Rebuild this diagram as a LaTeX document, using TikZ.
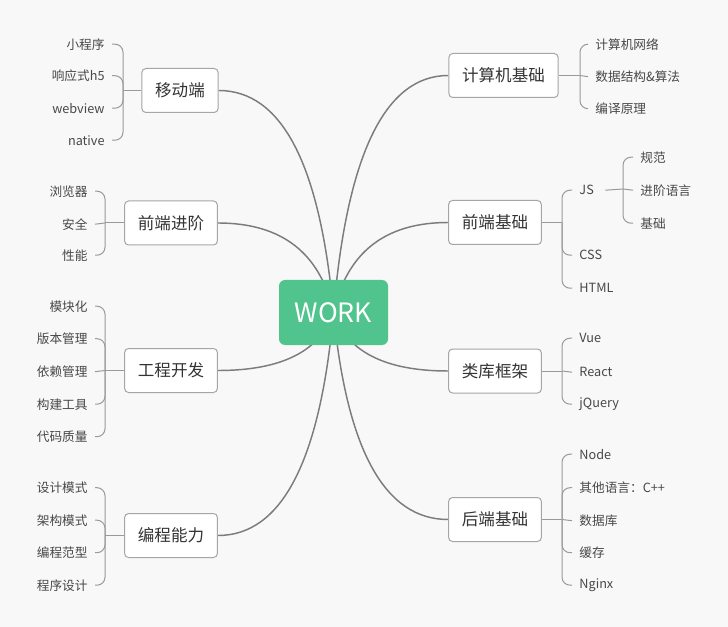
\documentclass[tikz,border=0pt]{standalone}
\usepackage{fontspec}
\setmainfont{Noto Sans CJK SC}
\usetikzlibrary{calc}
\definecolor{bgc}{HTML}{F8F8F8}
\definecolor{workgreen}{HTML}{50C48C}
\definecolor{linkc}{HTML}{7C7C7C}
\definecolor{bracec}{HTML}{9A9A9A}
\definecolor{boxline}{HTML}{A6A6A6}
\definecolor{txtc}{HTML}{333333}
\definecolor{leafc}{HTML}{484848}
\pgfdeclarelayer{back}
\pgfsetlayers{back,main}
\newcommand\mylink[3]{%
  \coordinate (qq) at ($(work.center |- #1.#2)+(#3,0)$);
  \draw[mainlink] (work.center) .. controls ($(work.center)!0.667!(qq)$) and ($(#1.#2)!0.667!(qq)$) .. (#1.#2);
}
\begin{document}
\begin{tikzpicture}[x=0.75pt,y=-0.75pt,
  topic/.style={draw=boxline, line width=0.75pt, fill=white, rounded corners=3pt,
    minimum height=33pt, inner xsep=10pt, font=\fontsize{12.4pt}{14pt}\selectfont, text=txtc},
  leafl/.style={anchor=east, inner xsep=5.4pt, inner ysep=2pt, yshift=-0.9pt,
    font=\fontsize{9.5pt}{11pt}\selectfont, text=leafc},
  leafr/.style={leafl, anchor=west},
  mainlink/.style={draw=linkc, line width=1.1pt},
  bracel/.style={draw=bracec, line width=0.75pt, rounded corners=6pt},
  bracest/.style={draw=bracec, line width=0.75pt},
]
\useasboundingbox (0,0) rectangle (728,627);

% central node
\node[fill=workgreen, rounded corners=4.5pt, minimum width=81.75pt, minimum height=48.75pt,
  text=white, font=\fontsize{20pt}{22pt}\selectfont] (work) at (333.5,312.5) {WORK};

% topic boxes
\node[topic] (mob)  at (180,90.5)  {移动端};
\node[topic] (qdjj) at (171,223)   {前端进阶};
\node[topic] (gckf) at (171,370.5) {工程开发};
\node[topic] (bcnl) at (171,535.5) {编程能力};
\node[topic] (jsj)  at (503.5,75.5) {计算机基础};
\node[topic] (qdjc) at (495,222.5) {前端基础};
\node[topic] (lkkj) at (495,371)   {类库框架};
\node[topic] (hdjc) at (495,519.5) {后端基础};

% brace junctions
\coordinate (mobB)  at (123,90.5);
\coordinate (qdjjB) at (105,223);
\coordinate (gckfB) at (105,370.5);
\coordinate (bcnlB) at (105,535.5);
\coordinate (jsjB)  at (580,75.5);
\coordinate (qdjcB) at (562,222.5);
\coordinate (jsB)   at (623,189);
\coordinate (lkkjB) at (562,371);
\coordinate (hdjcB) at (562,519.5);

% leaves: left
\node[leafl] (m1) at (112,43)    {小程序};
\node[leafl] (m2) at (112,74.5)  {响应式h5};
\node[leafl] (m3) at (112,107)   {webview};
\node[leafl] (m4) at (112,139)   {native};

\node[leafl] (j1) at (95,190) {浏览器};
\node[leafl] (j2) at (95,223) {安全};
\node[leafl] (j3) at (95,254) {性能};

\node[leafl] (g1) at (95,305)   {模块化};
\node[leafl] (g2) at (95,337.5) {版本管理};
\node[leafl] (g3) at (95,370.5) {依赖管理};
\node[leafl] (g4) at (95,403)   {构建工具};
\node[leafl] (g5) at (95,435.5) {代码质量};

\node[leafl] (b1) at (95,486.5) {设计模式};
\node[leafl] (b2) at (95,519)   {架构模式};
\node[leafl] (b3) at (95,551.5) {编程范型};
\node[leafl] (b4) at (95,584)   {程序设计};

% leaves: right
\node[leafr] (c1) at (588,43)   {计算机网络};
\node[leafr] (c2) at (588,75.5) {数据结构\&算法};
\node[leafr] (c3) at (588,107.5){编译原理};

\node[leafr] (js)   at (572,189) {JS};
\node[leafr] (css)  at (572,254) {CSS};
\node[leafr] (html) at (572,287) {HTML};

\node[leafr] (s1) at (633,156) {规范};
\node[leafr] (s2) at (633,189) {进阶语言};
\node[leafr] (s3) at (633,222) {基础};

\node[leafr] (l1) at (572,337) {Vue};
\node[leafr] (l2) at (572,371) {React};
\node[leafr] (l3) at (572,403) {jQuery};

\node[leafr] (h1) at (572,453)   {Node};
\node[leafr] (h2) at (572,486.5) {其他语言：C++};
\node[leafr] (h3) at (572,519.5) {数据库};
\node[leafr] (h4) at (572,551.5) {缓存};
\node[leafr] (h5) at (572,584)   {Nginx};

% braces (bent)
\foreach \n/\B in {m1/mobB,m2/mobB,m3/mobB,m4/mobB,
                   j1/qdjjB,j3/qdjjB,
                   g1/gckfB,g2/gckfB,g4/gckfB,g5/gckfB,
                   b1/bcnlB,b2/bcnlB,b3/bcnlB,b4/bcnlB}
  \draw[bracel] (\n.east) -- (\n.east -| \B) -- (\B);
\foreach \n/\B in {c1/jsjB,c3/jsjB,
                   js/qdjcB,css/qdjcB,html/qdjcB,
                   s1/jsB,s3/jsB,
                   l1/lkkjB,l3/lkkjB,
                   h1/hdjcB,h2/hdjcB,h4/hdjcB,h5/hdjcB}
  \draw[bracel] (\n.west) -- (\n.west -| \B) -- (\B);
% braces (straight)
\draw[bracest] (j2.east) -- (qdjjB);
\draw[bracest] (g3.east) -- (gckfB);
\draw[bracest] (c2.west) -- (jsjB);
\draw[bracest] (s2.west) -- (jsB);
\draw[bracest] (l2.west) -- (lkkjB);
\draw[bracest] (h3.west) -- (hdjcB);
% stems
\draw[bracest] (mobB) -- (mob.west);
\draw[bracest] (qdjjB) -- (qdjj.west);
\draw[bracest] (gckfB) -- (gckf.west);
\draw[bracest] (bcnlB) -- (bcnl.west);
\draw[bracest] (jsjB) -- (jsj.east);
\draw[bracest] (qdjcB) -- (qdjc.east);
\draw[bracest] (lkkjB) -- (lkkj.east);
\draw[bracest] (hdjcB) -- (hdjc.east);
\draw[bracest] ($(js.east)+(4,0)$) -- (jsB);

\begin{pgfonlayer}{back}
  \fill[bgc] (0,0) rectangle (728,627);
  \mylink{mob}{east}{-20}
  \mylink{qdjj}{east}{-20}
  \mylink{gckf}{east}{-20}
  \mylink{bcnl}{east}{-20}
  \mylink{jsj}{west}{20}
  \mylink{qdjc}{west}{20}
  \mylink{lkkj}{west}{20}
  \mylink{hdjc}{west}{20}
\end{pgfonlayer}
\end{tikzpicture}
\end{document}
